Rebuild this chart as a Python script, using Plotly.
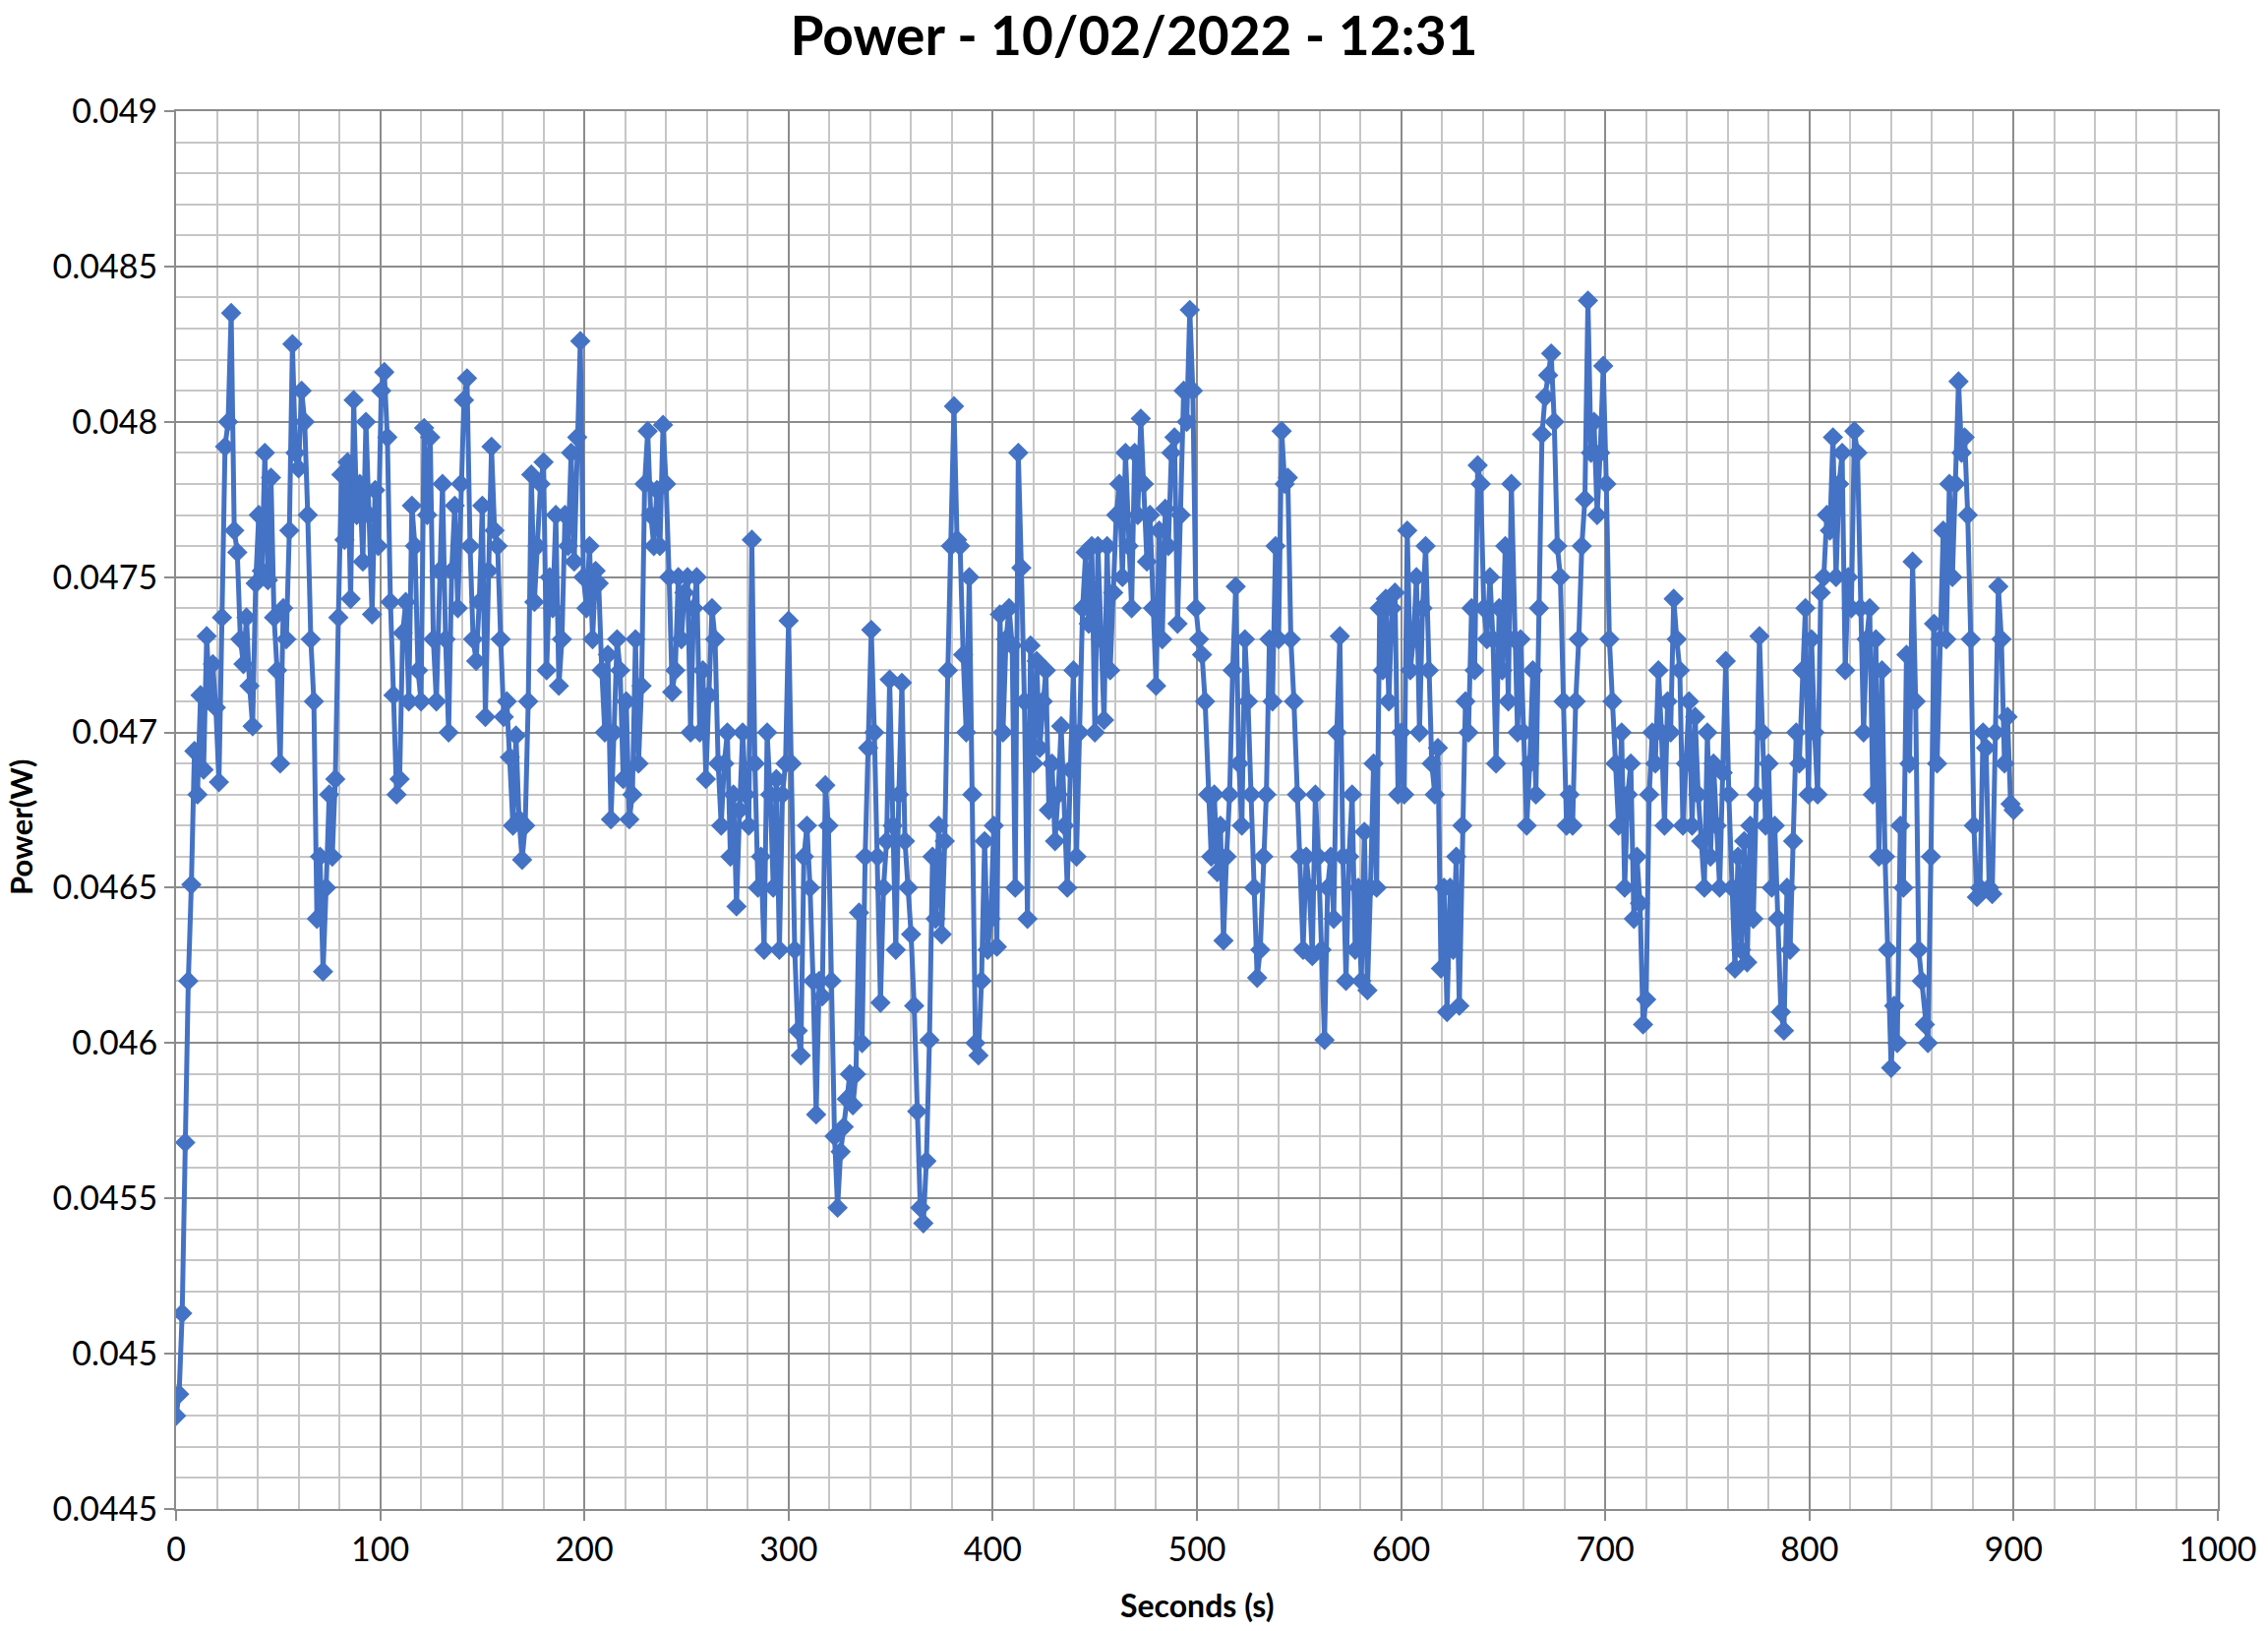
import plotly.graph_objects as go

# Power readings in microwatts, one every 1.5 s
power_uW = [
    44800, 44870, 45130, 45680, 46200, 46510, 46940, 46800, 47120, 46880,
    47310, 47100, 47220, 47080, 46840, 47370, 47920, 48000, 48350, 47650,
    47580, 47300, 47220, 47370, 47150, 47020, 47480, 47700, 47520, 47900,
    47490, 47820, 47370, 47200, 46900, 47400, 47300, 47650, 48250, 47900,
    47850, 48100, 48000, 47700, 47300, 47100, 46400, 46600, 46230, 46500,
    46800, 46600, 46850, 47370, 47830, 47620, 47870, 47430, 48070, 47700,
    47800, 47550, 48000, 47700, 47380, 47780, 47600, 48100, 48160, 47950,
    47420, 47120, 46800, 46850, 47320, 47420, 47100, 47730, 47600, 47200,
    47100, 47980, 47700, 47950, 47300, 47100, 47520, 47800, 47300, 47000,
    47520, 47730, 47400, 47800, 48070, 48140, 47600, 47300, 47230, 47420,
    47730, 47050, 47520, 47920, 47650, 47600, 47300, 47050, 47100, 46920,
    46700, 46990, 46720, 46590, 46700, 47100, 47830, 47420, 47600, 47800,
    47870, 47200, 47500, 47400, 47700, 47150, 47300, 47700, 47600, 47900,
    47550, 47950, 48260, 47500, 47400, 47600, 47300, 47520, 47480, 47200,
    47000, 47250, 46720, 47000, 47300, 47200, 46850, 47100, 46720, 46800,
    47300, 46900, 47150, 47800, 47970, 47700, 47600, 47780, 47600, 47990,
    47800, 47500, 47130, 47200, 47500, 47300, 47450, 47500, 47000, 47400,
    47500, 47000, 47200, 46850, 47120, 47400, 47300, 46900, 46700, 46900,
    47000, 46600, 46800, 46440, 46750, 47000, 46800, 46700, 47620, 46900,
    46500, 46600, 46300, 47000, 46800, 46500, 46850, 46300, 46800, 46900,
    47360, 46900, 46300, 46040, 45960, 46600, 46700, 46500, 46200, 45770,
    46200, 46150, 46830, 46700, 46200, 45700, 45470, 45650, 45730, 45820,
    45900, 45800, 45900, 46420, 46000, 46600, 46950, 47330, 47000, 46600,
    46130, 46500, 46650, 47170, 46700, 46300, 46800, 47160, 46650, 46500,
    46350, 46120, 45780, 45470, 45420, 45620, 46010, 46600, 46400, 46700,
    46350, 46650, 47200, 47600, 48050, 47620, 47600, 47250, 47000, 47500,
    46800, 46000, 45960, 46200, 46650, 46300, 46400, 46700, 46310, 47380,
    47000, 47300, 47400, 47280, 46500, 47900, 47530, 47100, 46400, 47280,
    46900, 47230, 46950, 47100, 47200, 46750, 46900, 46650, 46800, 47020,
    46700, 46500, 46880, 47200, 46600, 47000, 47400, 47580, 47350, 47600,
    47000, 47600, 47300, 47040, 47600, 47200, 47450, 47700, 47800, 47500,
    47900, 47600, 47400, 47900, 47700, 48010, 47800, 47550, 47700, 47400,
    47150, 47650, 47300, 47720, 47600, 47900, 47950, 47350, 47700, 48100,
    48000, 48360, 48100, 47400, 47300, 47250, 47100, 46800, 46600, 46800,
    46550, 46700, 46330, 46600, 46800, 47200, 47470, 46900, 46700, 47300,
    47100, 46800, 46500, 46210, 46300, 46600, 46800, 47300, 47100, 47600,
    47300, 47970, 47800, 47820, 47300, 47100, 46800, 46600, 46300, 46600,
    46500, 46280, 46800, 46600, 46300, 46010, 46500, 46600, 46400, 47000,
    47310, 46600, 46200, 46600, 46800, 46300, 46500, 46200, 46680, 46170,
    46500, 46900, 46500, 47400, 47200, 47430, 47100, 47400, 47450, 46800,
    47000, 46800, 47650, 47200, 47300, 47500, 47000, 47400, 47600, 47200,
    46900, 46800, 46950, 46240, 46500, 46100, 46500, 46300, 46600, 46120,
    46700, 47100, 47000, 47400, 47200, 47860, 47800, 47400, 47300, 47500,
    47300, 46900, 47400, 47200, 47600, 47100, 47800, 47300, 47000, 47300,
    47000, 46700, 46900, 47200, 46800, 47400, 47960, 48080, 48150, 48220,
    48000, 47600, 47500, 47100, 46700, 46800, 46700, 47100, 47300, 47600,
    47750, 48390, 47900, 48000, 47700, 47900, 48180, 47800, 47300, 47100,
    46900, 46700, 47000, 46500, 46800, 46900, 46400, 46600, 46450, 46060,
    46140, 46800, 47000, 46900, 47200, 47000, 46700, 47100, 47000, 47430,
    47300, 47200, 46700, 46900, 47100, 46700, 47050, 46800, 46650, 46500,
    47000, 46600, 46900, 46700, 46500, 46870, 47230, 46800, 46500, 46240,
    46600, 46300, 46650, 46260, 46700, 46400, 46800, 47310, 47000, 46700,
    46900, 46500, 46700, 46400, 46100, 46040, 46500, 46300, 46650, 47000,
    46900, 47200, 47400, 46800, 47300, 47000, 46800, 47450, 47500, 47700,
    47650, 47950, 47500, 47800, 47900, 47200, 47500, 47400, 47970, 47900,
    47400, 47000, 47300, 47400, 46800, 47300, 46600, 47200, 46600, 46300,
    45920, 46120, 46000, 46700, 46500, 47250, 46900, 47550, 47100, 46300,
    46200, 46060, 46000, 46600, 47350, 46900, 47300, 47650, 47300, 47800,
    47500, 47800, 48130, 47900, 47950, 47700, 47300, 46700, 46470, 46500,
    47000, 46950, 46500, 46480, 47000, 47470, 47300, 46900, 47050, 46770,
    46750,
]
sample_interval_s = 1.5
seconds = [round(i * sample_interval_s, 1) for i in range(len(power_uW))]
power_W = [v / 1e6 for v in power_uW]

x_tickvals = [0, 100, 200, 300, 400, 500, 600, 700, 800, 900, 1000]
x_ticktext = ["0", "100", "200", "300", "400", "500", "600", "700", "800", "900", "1000"]
y_tickvals = [0.0445, 0.045, 0.0455, 0.046, 0.0465, 0.047, 0.0475, 0.048, 0.0485, 0.049]
y_ticktext = ["0.0445", "0.045", "0.0455", "0.046", "0.0465", "0.047", "0.0475", "0.048", "0.0485", "0.049"]

FONT = "Lato"
BLUE = "#4472C4"
MAJOR = "#8c8c8c"
MINOR = "#c6c6c6"

fig = go.Figure()
fig.add_trace(go.Scatter(
    x=seconds, y=power_W, mode="lines+markers",
    line=dict(color=BLUE, width=5),
    marker=dict(symbol="diamond", size=16, color=BLUE),
    showlegend=False,
))

axis_common = dict(
    showgrid=True, gridcolor=MAJOR, gridwidth=2,
    ticks="outside", ticklen=10, tickcolor=MAJOR, tickwidth=2,
    showline=True, linecolor=MAJOR, linewidth=2, mirror=True,
    zeroline=False, tickfont=dict(family=FONT, size=34, color="black"),
)

fig.update_layout(
    width=2306, height=1658,
    paper_bgcolor="white", plot_bgcolor="white",
    margin=dict(l=179, r=40, t=113, b=124),
    title=dict(text="<b>Power - 10/02/2022 - 12:31</b>", x=0.5, xref="container",
               y=1 - 37 / 1658, yref="container", yanchor="middle", xanchor="center",
               font=dict(family=FONT, size=55, color="black")),
    xaxis=dict(range=[0, 1000], tickvals=x_tickvals, ticktext=x_ticktext,
               minor=dict(dtick=20, tick0=0, showgrid=True, gridcolor=MINOR, gridwidth=1.5, ticks=""),
               **axis_common),
    yaxis=dict(range=[0.0445, 0.049], tickvals=y_tickvals, ticktext=y_ticktext,
               minor=dict(dtick=0.0001, tick0=0.0445, showgrid=True, gridcolor=MINOR, gridwidth=1.5, ticks=""),
               **axis_common),
    annotations=[
        dict(text="<b>Seconds (s)</b>", xref="paper", yref="paper", x=0.5, y=-(1632 - 1534) / 1421,
             xanchor="center", yanchor="middle", showarrow=False,
             font=dict(family=FONT, size=32, color="black")),
        dict(text="<b>Power(W)</b>", xref="paper", yref="paper", x=-(179 - 20) / 2081, y=0.488,
             xanchor="center", yanchor="middle", textangle=-90, showarrow=False,
             font=dict(family=FONT, size=31, color="black")),
    ],
)

fig.write_html("out.html", config={"displayModeBar": False},
               post_script="document.body.style.margin='0';")
